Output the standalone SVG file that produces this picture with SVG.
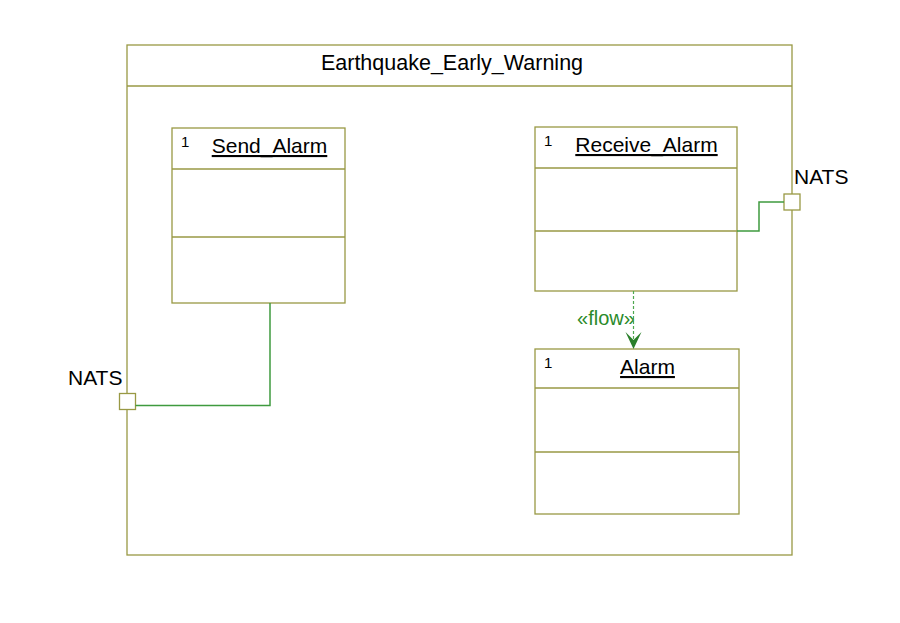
<svg xmlns="http://www.w3.org/2000/svg" width="900" height="623" viewBox="0 0 900 623">
<style>
.box{fill:#fff;stroke:#999944;stroke-width:1.3}
.ln{stroke:#999944;stroke-width:1.3;fill:none}
.t{font-family:"Liberation Sans",Arial,sans-serif;fill:#000}
.n{font-size:21px;text-anchor:middle;text-decoration:underline}
.c{font-size:15px}
.conn{stroke:#3f9a3f;stroke-width:1.5;fill:none}
.flow{stroke:#4fa84f;stroke-width:1.2;fill:none;stroke-dasharray:3,2}
</style>
<rect width="900" height="623" fill="#fff"/>
<g id="frame">
<rect class="box" x="127" y="45" width="665" height="510"/>
<line class="ln" x1="127" y1="86" x2="792" y2="86"/>
<text class="t" x="452" y="70" font-size="21.5" text-anchor="middle">Earthquake_Early_Warning</text>
</g>
<g id="send_alarm">
<rect class="box" x="172" y="128" width="173" height="175"/>
<line class="ln" x1="172" y1="169" x2="345" y2="169"/>
<line class="ln" x1="172" y1="237" x2="345" y2="237"/>
<text class="t c" x="181" y="147">1</text>
<text class="t n" x="269.5" y="153">Send_Alarm</text>
</g>
<g id="receive_alarm">
<rect class="box" x="535" y="127" width="202" height="164"/>
<line class="ln" x1="535" y1="168" x2="737" y2="168"/>
<line class="ln" x1="535" y1="231" x2="737" y2="231"/>
<text class="t c" x="544" y="146">1</text>
<text class="t n" x="646.5" y="152">Receive_Alarm</text>
</g>
<g id="alarm">
<rect class="box" x="535" y="349" width="204" height="165"/>
<line class="ln" x1="535" y1="388" x2="739" y2="388"/>
<line class="ln" x1="535" y1="452" x2="739" y2="452"/>
<text class="t c" x="544" y="368">1</text>
<text class="t n" x="647.5" y="374">Alarm</text>
</g>
<g id="port_right">
<rect class="box" x="784" y="194" width="16" height="16"/>
<text class="t" x="794" y="184" font-size="21">NATS</text>
</g>
<g id="port_left">
<rect class="box" x="119.5" y="393.5" width="16" height="16"/>
<text class="t" x="68" y="385" font-size="21">NATS</text>
</g>
<g id="connectors">
<polyline class="conn" points="737,231 759,231 759,202 784,202"/>
<polyline class="conn" points="135.5,405.5 270,405.5 270,303"/>
<line class="flow" x1="633.5" y1="291" x2="633.5" y2="345"/>
<polygon fill="#2a7f2a" points="625.5,332 633.5,349 641.5,332 633.5,340"/>
<text x="606" y="325" font-size="20" text-anchor="middle" font-family="Liberation Sans,Arial,sans-serif" fill="#2a8a2a">«flow»</text>
</g>
</svg>
